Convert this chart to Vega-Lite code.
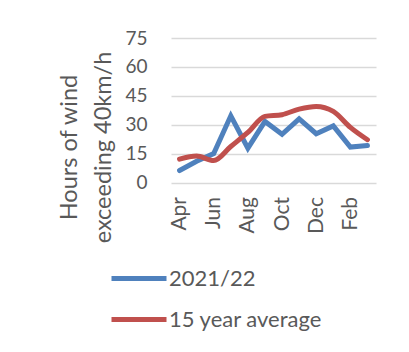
{
  "$schema": "https://vega.github.io/schema/vega-lite/v6.json",
  "autosize": {"type": "none"},
  "width": 205,
  "height": 144.5,
  "padding": {"left": 171, "top": 38, "right": 33, "bottom": 169.5},
  "background": "white",
  "config": {
    "font": "Lato",
    "view": {"stroke": null},
    "axis": {"labelColor": "#595959", "titleColor": "#595959", "labelFont": "Lato", "titleFont": "Lato", "titleFontWeight": "normal"},
    "legend": {"labelColor": "#595959", "labelFont": "Lato"}
  },
  "data": {
    "values": [
      {"month": "Apr", "series": "2021/22", "hours": 6.2},
      {"month": "May", "series": "2021/22", "hours": 11},
      {"month": "Jun", "series": "2021/22", "hours": 15},
      {"month": "Jul", "series": "2021/22", "hours": 34.6},
      {"month": "Aug", "series": "2021/22", "hours": 17.8},
      {"month": "Sep", "series": "2021/22", "hours": 31.7},
      {"month": "Oct", "series": "2021/22", "hours": 25},
      {"month": "Nov", "series": "2021/22", "hours": 33},
      {"month": "Dec", "series": "2021/22", "hours": 25.3},
      {"month": "Jan", "series": "2021/22", "hours": 29.4},
      {"month": "Feb", "series": "2021/22", "hours": 18.4},
      {"month": "Mar", "series": "2021/22", "hours": 19.2},
      {"month": "Apr", "series": "15 year average", "hours": 12.1},
      {"month": "May", "series": "15 year average", "hours": 13.7},
      {"month": "Jun", "series": "15 year average", "hours": 11.4},
      {"month": "Jul", "series": "15 year average", "hours": 18.7},
      {"month": "Aug", "series": "15 year average", "hours": 26},
      {"month": "Sep", "series": "15 year average", "hours": 34.3},
      {"month": "Oct", "series": "15 year average", "hours": 35.2},
      {"month": "Nov", "series": "15 year average", "hours": 38.1},
      {"month": "Dec", "series": "15 year average", "hours": 39.5},
      {"month": "Jan", "series": "15 year average", "hours": 36.9},
      {"month": "Feb", "series": "15 year average", "hours": 28.6},
      {"month": "Mar", "series": "15 year average", "hours": 22.2}
    ]
  },
  "encoding": {
    "x": {
      "field": "month", "type": "ordinal",
      "sort": ["Apr","May","Jun","Jul","Aug","Sep","Oct","Nov","Dec","Jan","Feb","Mar"],
      "scale": {"paddingInner": 0, "paddingOuter": 0.5},
      "axis": {
        "title": null, "values": ["Apr","Jun","Aug","Oct","Dec","Feb"],
        "labelAngle": -90, "labelAlign": "right", "labelBaseline": "middle",
        "labelFontSize": 21, "labelPadding": 14, "ticks": false, "domain": false, "grid": false
      }
    },
    "y": {
      "field": "hours", "type": "quantitative",
      "scale": {"domain": [0, 75], "nice": false},
      "axis": {
        "values": [0, 15, 30, 45, 60, 75],
        "title": ["Hours of wind", "exceeding 40km/h"],
        "titleFontSize": 23.5, "titleLineHeight": 34, "titleAngle": -90,
        "titleAlign": "center", "titleBaseline": "top",
        "titleX": -114, "titleY": 109,
        "labelFontSize": 19, "labelPadding": 24,
        "ticks": false, "domain": false,
        "gridColor": "#d9d9d9", "gridWidth": 1.5
      }
    },
    "color": {
      "field": "series", "type": "nominal",
      "scale": {"domain": ["2021/22", "15 year average"], "range": ["#4f81bd", "#c0504d"]},
      "legend": {
        "title": null, "orient": "none", "legendX": -62, "legendY": 210.5,
        "direction": "vertical", "symbolType": "stroke", "symbolSize": 3025,
        "symbolStrokeWidth": 5, "labelFontSize": 22, "labelOffset": 0, "rowPadding": -10
      }
    }
  },
  "layer": [
    {
      "transform": [{"filter": "datum.series === '2021/22'"}],
      "mark": {"type": "line", "strokeWidth": 5, "strokeCap": "round", "strokeJoin": "miter"}
    },
    {
      "transform": [{"filter": "datum.series === '15 year average'"}],
      "mark": {"type": "line", "strokeWidth": 5, "strokeCap": "round", "interpolate": "monotone"}
    }
  ]
}
